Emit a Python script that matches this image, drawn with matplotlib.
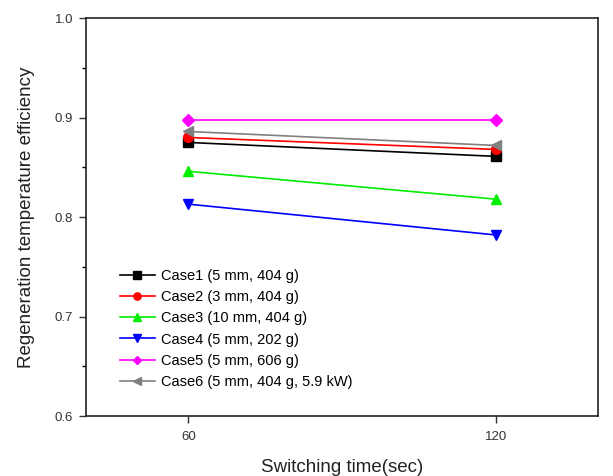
import numpy as np
import matplotlib
matplotlib.use("Agg")
import matplotlib.pyplot as plt

plt.rcParams['font.family'] = ['Liberation Sans', 'DejaVu Sans']

# data
switching_time = [60, 120]
case_labels = ['Case1 (5 mm, 404 g)', 'Case2 (3 mm, 404 g)', 'Case3 (10 mm, 404 g)',
               'Case4 (5 mm, 202 g)', 'Case5 (5 mm, 606 g)', 'Case6 (5 mm, 404 g, 5.9 kW)']
case1 = [0.875, 0.861]
case2 = [0.880, 0.868]
case3 = [0.846, 0.818]
case4 = [0.813, 0.782]
case5 = [0.898, 0.898]
case6 = [0.886, 0.872]

colors = ['black', 'red', '#00ee00', 'blue', '#ff00ff', 'gray']
markers = ['s', 'o', '^', 'v', 'D', '<']

fig = plt.figure(figsize=(6.13, 4.76), dpi=100)
ax = fig.add_axes([0.140, 0.126, 0.836, 0.836])

for vals, lab, c, m in zip([case1, case2, case3, case4, case5, case6], case_labels, colors, markers):
    ms = 6 if m == 'D' else 7
    ax.plot(switching_time, vals, color=c, marker=m, markersize=ms, linewidth=1.2, label=lab)

ax.set_xlim(40, 140)
ax.set_ylim(0.6, 1.0)
ax.set_xticks([60, 120])
ax.set_yticks([0.6, 0.7, 0.8, 0.9, 1.0])
ax.set_yticks(np.arange(0.65, 1.0, 0.1), minor=True)
ax.yaxis.set_major_formatter(matplotlib.ticker.FormatStrFormatter('%.1f'))
ax.tick_params(axis='both', which='major', direction='out', length=5, width=1, labelsize=9.5, colors='#333333')
ax.tick_params(axis='x', which='major', pad=6)
ax.tick_params(axis='y', which='major', pad=4)
ax.tick_params(axis='y', which='minor', direction='out', length=3, width=1)
for s in ax.spines.values():
    s.set_linewidth(1.2)
    s.set_color('#222222')

ax.set_xlabel('Switching time(sec)', fontsize=13.5, color='#222222', labelpad=11)
ax.set_ylabel('Regeneration temperature efficiency', fontsize=13.5, color='#222222', labelpad=14)

ax.legend(loc='upper left', bbox_to_anchor=(0.055, 0.385), frameon=False, fontsize=10.5,
          handlelength=2.4, labelspacing=0.5, handletextpad=0.4, borderaxespad=0,
          markerscale=0.75)

fig.savefig('out.png', dpi=100)
